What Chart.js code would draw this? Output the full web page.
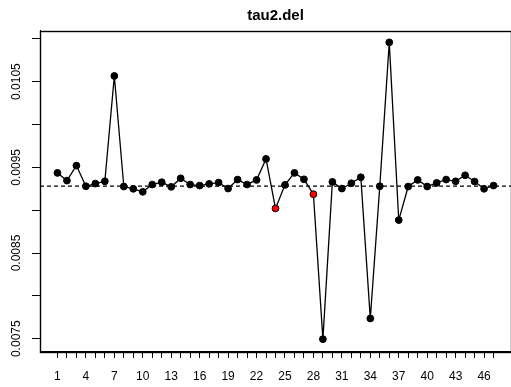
<!DOCTYPE html>
<html>
<head>
<meta charset="utf-8">
<script src="https://cdn.jsdelivr.net/npm/chart.js@4/dist/chart.umd.min.js"></script>
<style>
  html, body { margin: 0; padding: 0; background: #ffffff; overflow: hidden; }
  #wrap { position: absolute; left: 0; top: 0; width: 516px; height: 387px; }
</style>
</head>
<body>
<div id="wrap"><canvas id="chart" width="516" height="387"></canvas></div>
<script>
// Draw index (x) and posterior draws of tau2.del (y)
const indices = Array.from({ length: 47 }, (_, i) => i + 1);
const tau2Del = [
  0.009435, 0.009345, 0.009520, 0.009279, 0.009310, 0.009337, 0.010566, 0.009276,
  0.009249, 0.009214, 0.009299, 0.009326, 0.009272, 0.009372, 0.009299, 0.009287,
  0.009307, 0.009322, 0.009252, 0.009357, 0.009299, 0.009353, 0.009598, 0.009020,
  0.009295, 0.009435, 0.009360, 0.009186, 0.007495, 0.009330, 0.009252, 0.009314,
  0.009384, 0.007736, 0.009279, 0.010958, 0.008884, 0.009276, 0.009353, 0.009276,
  0.009318, 0.009357, 0.009337, 0.009407, 0.009334, 0.009249, 0.009287
];
// Points highlighted in red
const flagged = [24, 28];
// Horizontal reference level (dashed)
const refLevel = 0.00928;
// Axis ticks
const yTicks = [0.0075, 0.0080, 0.0085, 0.0090, 0.0095, 0.0100, 0.0105, 0.0110];
const yTickLabels = ['0.0075', '', '0.0085', '', '0.0095', '', '0.0105', ''];
const xLabelStep = 3;

// R-style 4% range extension
function extend(lo, hi) { const p = (hi - lo) * 0.04; return [lo - p, hi + p]; }
const [xMin, xMax] = extend(Math.min(...indices), Math.max(...indices));
const [yMin, yMax] = extend(Math.min(...tau2Del), Math.max(...tau2Del));

const FONT = 'Liberation Sans, Arial, Helvetica, sans-serif';

const boxPlugin = {
  id: 'plotBox',
  beforeDatasetsDraw(chart) {
    const { ctx, chartArea: a, scales: { y } } = chart;
    const py = y.getPixelForValue(refLevel);
    ctx.save();
    ctx.strokeStyle = '#000';
    ctx.lineWidth = 1.1;
    ctx.setLineDash([4, 3]);
    ctx.beginPath();
    ctx.moveTo(a.left, py);
    ctx.lineTo(a.right, py);
    ctx.stroke();
    ctx.restore();
  },
  afterDraw(chart) {
    const { ctx, chartArea: a } = chart;
    ctx.save();
    ctx.strokeStyle = '#000';
    ctx.lineWidth = 1.4;
    ctx.strokeRect(Math.round(a.left) + 0.5, Math.round(a.top) + 0.5,
                   Math.round(a.right - a.left), Math.round(a.bottom - a.top));
    ctx.restore();
  }
};

new Chart(document.getElementById('chart'), {
  type: 'line',
  data: {
    datasets: [{
      data: tau2Del.map((v, i) => ({ x: indices[i], y: v })),
      borderColor: '#000',
      borderWidth: 1.3,
      tension: 0,
      pointRadius: 3.4,
      pointBorderWidth: 1,
      pointBorderColor: '#000',
      pointBackgroundColor: indices.map(i => flagged.includes(i) ? '#ff0000' : '#000'),
      clip: false
    }]
  },
  options: {
    responsive: false,
    devicePixelRatio: 1,
    animation: false,
    layout: { padding: { left: 0, right: 2, top: 0, bottom: 0 } },
    plugins: {
      legend: { display: false },
      tooltip: { enabled: false },
      title: {
        display: true,
        text: 'tau2.del',
        fullSize: false,
        color: '#000',
        font: { family: FONT, size: 15, weight: 'bold', lineHeight: 1.2 },
        padding: { top: 7, bottom: 5.5 }
      }
    },
    scales: {
      x: {
        type: 'linear',
        min: xMin,
        max: xMax,
        afterBuildTicks: s => { s.ticks = indices.map(v => ({ value: v })); },
        afterFit: s => { s.height = 36; },
        ticks: {
          autoSkip: false,
          minRotation: 0,
          maxRotation: 0,
          padding: 11,
          color: '#000',
          font: { family: FONT, size: 12 },
          callback: v => ((v - 1) % xLabelStep === 0 ? String(v) : '')
        },
        grid: { drawOnChartArea: false, drawTicks: true, tickLength: 7, tickColor: '#000', tickWidth: 1 },
        border: { display: true, color: '#000', width: 1 }
      },
      y: {
        type: 'linear',
        min: yMin,
        max: yMax,
        afterBuildTicks: s => { s.ticks = yTicks.map(v => ({ value: v })); },
        afterFit: s => { s.width = 40; },
        ticks: {
          autoSkip: false,
          minRotation: 90,
          maxRotation: 90,
          crossAlign: 'center',
          padding: -3,
          color: '#000',
          font: { family: FONT, size: 12 },
          callback: (v, idx) => yTickLabels[idx]
        },
        grid: { drawOnChartArea: false, drawTicks: true, tickLength: 8, tickColor: '#000', tickWidth: 1 },
        border: { display: true, color: '#000', width: 1 }
      }
    }
  },
  plugins: [boxPlugin]
});
</script>
</body>
</html>
